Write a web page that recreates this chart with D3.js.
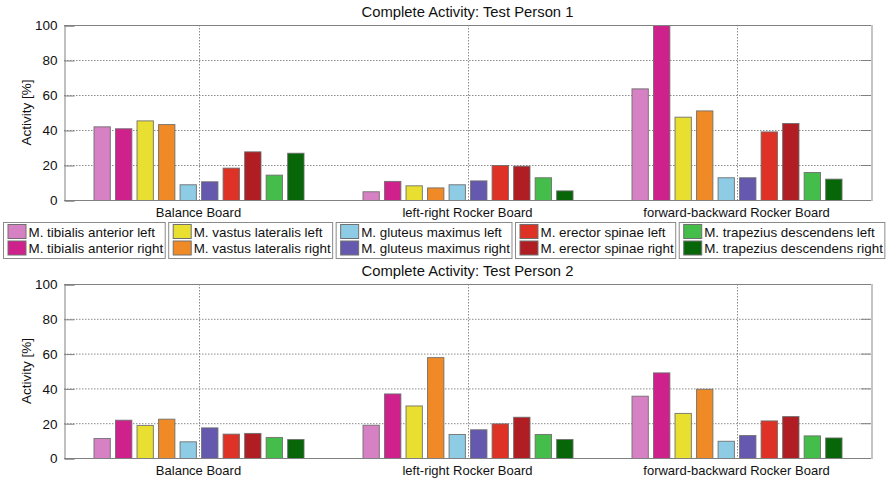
<!DOCTYPE html>
<html>
<head>
<meta charset="utf-8">
<script src="https://cdn.jsdelivr.net/npm/d3@7/dist/d3.min.js"></script>
<style>
  html, body { margin: 0; padding: 0; background: #fff; }
  svg { display: block; font-family: "Liberation Sans", Arial, sans-serif; }
</style>
</head>
<body>
<svg id="chart" width="895" height="484"></svg>
<script>
// Exercise boards (x categories)
const boards = ["Balance Board", "left-right Rocker Board", "forward-backward Rocker Board"];

// Muscles (series)
const muscles = [
  "M. tibialis anterior left", "M. tibialis anterior right",
  "M. vastus lateralis left", "M. vastus lateralis right",
  "M. gluteus maximus left", "M. gluteus maximus right",
  "M. erector spinae left", "M. erector spinae right",
  "M. trapezius descendens left", "M. trapezius descendens right"
];

const muscleColors = [
  "#d681c4", "#cf218c",
  "#e9df30", "#f08a26",
  "#8ecbe4", "#6459ae",
  "#de3226", "#b01e23",
  "#44bd4a", "#076608"
];

// Activity [%] per board, one value per muscle
const person1 = [
  [42.1, 41.0, 45.5, 43.4, 9.0, 10.7, 18.5, 27.8, 14.5, 27.0],
  [5.0, 10.9, 8.4, 7.2, 9.0, 11.2, 20.0, 19.6, 13.0, 5.5],
  [63.8, 100.0, 47.6, 51.2, 13.0, 13.0, 39.2, 44.0, 16.0, 12.2]
];
const person2 = [
  [11.5, 22.0, 19.0, 22.6, 9.6, 17.6, 14.0, 14.4, 12.1, 10.9],
  [19.1, 37.1, 30.2, 58.0, 13.8, 16.5, 19.9, 23.7, 13.8, 10.9],
  [35.8, 49.2, 25.9, 39.8, 9.9, 13.2, 21.6, 24.1, 13.0, 11.8]
];

const yTicks = [0, 20, 40, 60, 80, 100];
const titles = ["Complete Activity: Test Person 1", "Complete Activity: Test Person 2"];
const yLabel = "Activity [%]";

const svg = d3.select("#chart");
const plotLeft = 64, plotRight = 871;
const FONT = "Liberation Sans, Arial, sans-serif";

const x0 = d3.scaleBand().domain(boards).range([plotLeft, plotRight])
  .paddingInner(0.2).paddingOuter(0.1);
const x1 = d3.scaleBand().domain(d3.range(muscles.length)).range([0, x0.bandwidth()])
  .paddingInner(0.24).paddingOuter(0.12);

function drawPanel(data, title, top, bottom, titleY) {
  const g = svg.append("g");
  const y = d3.scaleLinear().domain([0, 100]).range([bottom, top]);

  // title
  g.append("text").attr("x", (plotLeft + plotRight) / 2).attr("y", titleY)
    .attr("text-anchor", "middle").attr("font-size", 14.8).attr("fill", "#111")
    .text(title);

  // horizontal grid
  g.append("g").selectAll("line").data(yTicks.filter(d => d > 0 && d < 100)).join("line")
    .attr("x1", plotLeft).attr("x2", plotRight)
    .attr("y1", d => y(d) + 0.5).attr("y2", d => y(d) + 0.5)
    .attr("stroke", "#8a8a8a").attr("stroke-width", 1).attr("stroke-dasharray", "1.5,1.5");

  // vertical grid at category centres
  g.append("g").selectAll("line").data(boards).join("line")
    .attr("x1", d => Math.round(x0(d) + x0.bandwidth() / 2) + 0.5)
    .attr("x2", d => Math.round(x0(d) + x0.bandwidth() / 2) + 0.5)
    .attr("y1", top).attr("y2", bottom)
    .attr("stroke", "#8a8a8a").attr("stroke-width", 1).attr("stroke-dasharray", "1.5,1.5");

  // right edge (light) and inward ticks
  g.append("line").attr("x1", plotRight + 1).attr("x2", plotRight + 1)
    .attr("y1", top).attr("y2", bottom + 1)
    .attr("stroke", "#c4c4c4").attr("stroke-width", 2);
  g.append("g").selectAll("line").data(yTicks).join("line")
    .attr("x1", plotRight - 10).attr("x2", plotRight)
    .attr("y1", d => y(d) + 0.5).attr("y2", d => y(d) + 0.5)
    .attr("stroke", "#808080");

  // bars
  const groups = g.append("g").selectAll("g").data(data).join("g")
    .attr("transform", (d, i) => `translate(${x0(boards[i])},0)`);
  groups.selectAll("rect").data(d => d).join("rect")
    .attr("x", (d, j) => x1(j) + 0.5)
    .attr("width", x1.bandwidth())
    .attr("y", d => y(d) + 0.5)
    .attr("height", d => bottom - y(d))
    .attr("fill", (d, j) => muscleColors[j])
    .attr("stroke", "#6b6b6b").attr("stroke-opacity", 0.85).attr("stroke-width", 1);

  // left axis
  const yAxis = d3.axisLeft(y).tickValues(yTicks).tickSize(-10).tickPadding(7);
  const ya = g.append("g").attr("transform", `translate(${plotLeft + 0.5},0.5)`).call(yAxis);
  ya.attr("font-family", FONT);
  ya.select(".domain").attr("stroke", "#808080");
  ya.selectAll(".tick line").attr("stroke", "#808080");
  ya.selectAll("text").attr("font-size", 13.5).attr("fill", "#111");

  // top edge
  g.append("line").attr("x1", plotLeft).attr("x2", plotRight)
    .attr("y1", top + 0.5).attr("y2", top + 0.5).attr("stroke", "#808080");

  // bottom axis
  const xAxis = d3.axisBottom(x0).tickSize(0).tickPadding(7);
  const xa = g.append("g").attr("transform", `translate(0,${bottom + 0.5})`).call(xAxis);
  xa.attr("font-family", FONT);
  xa.select(".domain").attr("stroke", "#808080")
    .attr("d", `M${plotLeft},0H${plotRight}`);
  xa.selectAll("text").attr("font-size", 13).attr("fill", "#111");

  // y label
  g.append("text")
    .attr("transform", `translate(31,${(top + bottom) / 2}) rotate(-90)`)
    .attr("text-anchor", "middle").attr("font-size", 13.5).attr("fill", "#111")
    .text(yLabel);
}

drawPanel(person1, titles[0], 25, 200, 16.5);
drawPanel(person2, titles[1], 284, 458, 275.5);

// legend: five boxes, two muscles each
const legend = svg.append("g");
const boxTop = 222.5, boxH = 36, gap = 3.5;
let bx = 3.5;
for (let k = 0; k < 5; k++) {
  const box = legend.append("g");
  const border = box.append("rect");
  let maxW = 0;
  for (let r = 0; r < 2; r++) {
    const idx = k * 2 + r;
    const ry = boxTop + 2 + r * 16.5;
    box.append("rect").attr("x", bx + 4.5).attr("y", ry)
      .attr("width", 18).attr("height", 14)
      .attr("fill", muscleColors[idx]).attr("stroke", "#707070");
    const t = box.append("text").attr("x", bx + 25).attr("y", ry + 12)
      .attr("font-size", 13.4).attr("fill", "#111").text(muscles[idx]);
    maxW = Math.max(maxW, t.node().getComputedTextLength());
  }
  const w = 25 + maxW + 2;
  border.attr("x", bx).attr("y", boxTop).attr("width", w).attr("height", boxH)
    .attr("fill", "#fff").attr("stroke", "#8a8a8a");
  bx += w + gap;
}
</script>
</body>
</html>
